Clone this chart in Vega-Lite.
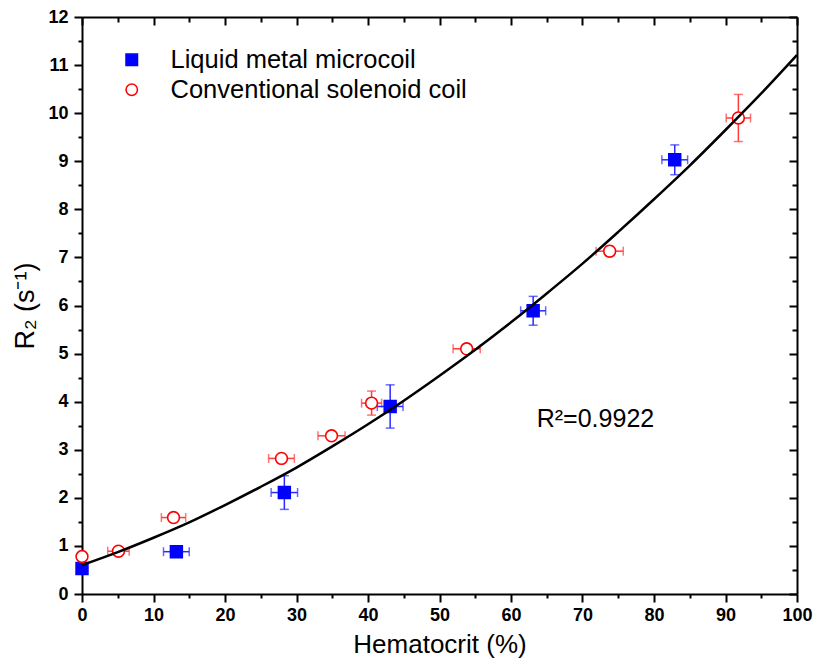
{
  "$schema": "https://vega.github.io/schema/vega-lite/v6.json",
  "width": 715,
  "height": 577,
  "autosize": {"type": "none"},
  "padding": {"left": 82, "top": 17, "right": 19, "bottom": 70},
  "background": "white",
  "config": {
    "view": {"stroke": null},
    "font": "Liberation Sans"
  },
  "datasets": {
    "pts": [
      {"series": "Liquid metal microcoil", "x": 0, "y": 0.53, "ex": 0, "ey": 0.05},
      {"series": "Liquid metal microcoil", "x": 13.2, "y": 0.88, "ex": 1.8, "ey": 0.06},
      {"series": "Liquid metal microcoil", "x": 28.3, "y": 2.11, "ex": 1.85, "ey": 0.35},
      {"series": "Liquid metal microcoil", "x": 43.1, "y": 3.9, "ex": 1.8, "ey": 0.45},
      {"series": "Liquid metal microcoil", "x": 63.1, "y": 5.89, "ex": 1.75, "ey": 0.3},
      {"series": "Liquid metal microcoil", "x": 82.9, "y": 9.03, "ex": 1.8, "ey": 0.31},
      {"series": "Conventional solenoid coil", "x": 0, "y": 0.78, "ex": 0, "ey": 0.05},
      {"series": "Conventional solenoid coil", "x": 5.1, "y": 0.89, "ex": 1.5, "ey": 0.05},
      {"series": "Conventional solenoid coil", "x": 12.8, "y": 1.59, "ex": 1.7, "ey": 0.07},
      {"series": "Conventional solenoid coil", "x": 27.9, "y": 2.82, "ex": 1.8, "ey": 0.06},
      {"series": "Conventional solenoid coil", "x": 34.9, "y": 3.29, "ex": 1.9, "ey": 0.06},
      {"series": "Conventional solenoid coil", "x": 40.5, "y": 3.97, "ex": 1.4, "ey": 0.25},
      {"series": "Conventional solenoid coil", "x": 53.8, "y": 5.1, "ex": 1.9, "ey": 0.08},
      {"series": "Conventional solenoid coil", "x": 73.8, "y": 7.13, "ex": 1.9, "ey": 0.1},
      {"series": "Conventional solenoid coil", "x": 91.8, "y": 9.9, "ex": 1.7, "ey": 0.49}
    ],
    "fit": [
      {"x": 0, "y": 0.6}, {"x": 5, "y": 0.87}, {"x": 10, "y": 1.17}, {"x": 15, "y": 1.49},
      {"x": 20, "y": 1.85}, {"x": 25, "y": 2.23}, {"x": 30, "y": 2.63}, {"x": 35, "y": 3.07},
      {"x": 40, "y": 3.53}, {"x": 45, "y": 4.02}, {"x": 50, "y": 4.54}, {"x": 55, "y": 5.08},
      {"x": 60, "y": 5.65}, {"x": 65, "y": 6.25}, {"x": 70, "y": 6.87}, {"x": 75, "y": 7.53},
      {"x": 80, "y": 8.21}, {"x": 85, "y": 8.91}, {"x": 90, "y": 9.65}, {"x": 95, "y": 10.41},
      {"x": 100, "y": 11.21}
    ],
    "note": [{"x": 63.6, "y": 3.47, "label": "R²=0.9922"}]
  },
  "resolve": {"axis": {"x": "independent", "y": "independent"}},
  "layer": [
    {
      "encoding": {
        "x": {"field": "x", "type": "quantitative", "scale": {"domain": [0, 100], "nice": false},
          "axis": {"orient": "bottom", "values": [0,5,10,15,20,25,30,35,40,45,50,55,60,65,70,75,80,85,90,95,100],
            "labelExpr": "datum.value % 10 === 0 ? format(datum.value, 'd') : ''", "labelFlush": false,
            "tickSize": {"condition": {"test": "datum.value % 10 === 0", "value": 8}, "value": 4},
            "labelFontSize": 18, "labelFontWeight": "bold", "labelColor": "black", "labelPadding": 4,
            "domainColor": "black", "domainWidth": 2, "tickColor": "black", "tickWidth": 2, "grid": false,
            "title": "Hematocrit (%)", "titleFontSize": 26, "titleFontWeight": "normal", "titleColor": "black", "titlePadding": 7}},
        "y": {"field": "y", "type": "quantitative", "scale": {"domain": [0, 12], "nice": false},
          "axis": {"orient": "left", "values": [0,0.5,1,1.5,2,2.5,3,3.5,4,4.5,5,5.5,6,6.5,7,7.5,8,8.5,9,9.5,10,10.5,11,11.5,12],
            "labelExpr": "datum.value % 1 === 0 ? format(datum.value, 'd') : ''", "labelFlush": false,
            "tickSize": {"condition": {"test": "datum.value % 1 === 0", "value": 8}, "value": 4},
            "labelFontSize": 18, "labelFontWeight": "bold", "labelColor": "black", "labelPadding": 6,
            "domainColor": "black", "domainWidth": 2, "tickColor": "black", "tickWidth": 2, "grid": false,
            "title": "R₂ (s⁻¹)", "titleFontSize": 27, "titleFontWeight": "normal", "titleColor": "black", "titlePadding": 8}}
      },
      "layer": [
        {
          "data": {"name": "pts"},
          "mark": {"type": "errorbar", "ticks": {"size": 9}, "thickness": 1.5},
          "encoding": {
            "yError": {"field": "ey"},
            "color": {"condition": {"test": "datum.series === 'Liquid metal microcoil'", "value": "#2a2aff"}, "value": "#ff3b3b"}
          }
        },
        {
          "data": {"name": "pts"},
          "mark": {"type": "errorbar", "ticks": {"size": 9}, "thickness": 1.5},
          "encoding": {
            "xError": {"field": "ex"},
            "color": {"condition": {"test": "datum.series === 'Liquid metal microcoil'", "value": "#2a2aff"}, "value": "#ff3b3b"}
          }
        },
        {
          "data": {"name": "pts"},
          "mark": {"type": "point", "size": 140, "strokeWidth": 1.6, "opacity": 1},
          "encoding": {
            "shape": {"field": "series", "type": "nominal",
              "scale": {"domain": ["Liquid metal microcoil", "Conventional solenoid coil"], "range": ["square", "circle"]},
              "legend": {"title": null, "orient": "none", "legendX": 37, "legendY": 30, "padding": 0,
                "labelFontSize": 25.5, "labelColor": "black", "labelOffset": 26, "rowPadding": 3,
                "symbolSize": 130, "symbolStrokeWidth": 1.6, "labelLimit": 500}},
            "fill": {"field": "series", "type": "nominal",
              "scale": {"domain": ["Liquid metal microcoil", "Conventional solenoid coil"], "range": ["#0000ff", "#ffffff"]}},
            "stroke": {"field": "series", "type": "nominal",
              "scale": {"domain": ["Liquid metal microcoil", "Conventional solenoid coil"], "range": ["#0000ff", "#ff0000"]}}
          }
        },
        {
          "data": {"name": "note"},
          "mark": {"type": "text", "align": "left", "baseline": "alphabetic", "fontSize": 25, "color": "black"},
          "encoding": {
            "text": {"field": "label"}
          }
        }
      ]
    },
    {
      "data": {"name": "fit"},
      "mark": {"type": "line", "color": "black", "strokeWidth": 2.5, "interpolate": "monotone"},
      "encoding": {
        "x": {"field": "x", "type": "quantitative", "scale": {"domain": [0, 100], "nice": false},
          "axis": {"orient": "top", "values": [0,5,10,15,20,25,30,35,40,45,50,55,60,65,70,75,80,85,90,95,100],
            "labels": false, "title": null, "grid": false, "domainColor": "black", "domainWidth": 2,
            "tickColor": "black", "tickWidth": 2,
            "tickSize": {"condition": {"test": "datum.value % 10 === 0", "value": -8}, "value": -5}}},
        "y": {"field": "y", "type": "quantitative", "scale": {"domain": [0, 12], "nice": false},
          "axis": {"orient": "right", "values": [0,0.5,1,1.5,2,2.5,3,3.5,4,4.5,5,5.5,6,6.5,7,7.5,8,8.5,9,9.5,10,10.5,11,11.5,12],
            "labels": false, "title": null, "grid": false, "domainColor": "black", "domainWidth": 2,
            "tickColor": "black", "tickWidth": 2,
            "tickSize": {"condition": {"test": "datum.value % 1 === 0", "value": -8}, "value": -5}}}
      }
    }
  ]
}
